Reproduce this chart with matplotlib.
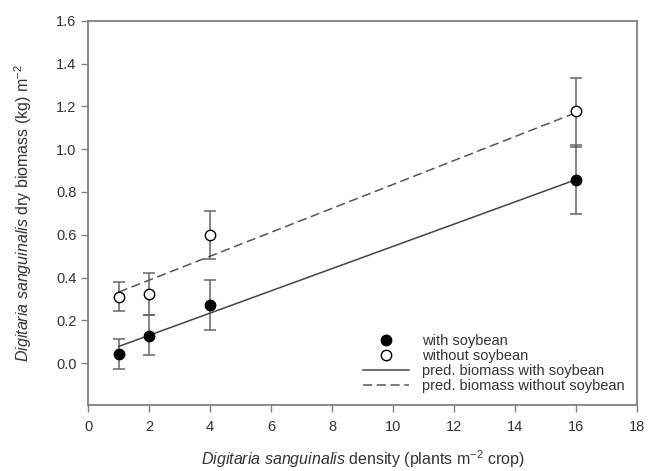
import matplotlib
matplotlib.use("Agg")
import matplotlib.pyplot as plt
import numpy as np

plt.rcParams["font.family"] = "Liberation Sans"
plt.rcParams["mathtext.fontset"] = "custom"
plt.rcParams["mathtext.rm"] = "Liberation Sans"
plt.rcParams["mathtext.it"] = "Liberation Sans:italic"

# data
density = [1, 2, 4, 16]
with_soy = [0.042, 0.129, 0.272, 0.857]
with_soy_hi = [0.112, 0.223, 0.388, 1.019]
with_soy_lo = [-0.026, 0.040, 0.157, 0.698]
without_soy = [0.311, 0.325, 0.600, 1.178]
without_soy_hi = [0.378, 0.420, 0.712, 1.332]
without_soy_lo = [0.243, 0.223, 0.488, 1.012]

pred_x = [1, 16]
pred_with = [0.078, 0.857]
pred_without = [0.332, 1.17]

txt = "#333333"

fig = plt.figure(figsize=(6.49, 4.71), dpi=100)
ax = fig.add_axes([0.136, 0.140, 0.845, 0.816])

x = np.array(density)
for y, hi, lo, face, lab in [
    (with_soy, with_soy_hi, with_soy_lo, "black", "with soybean"),
    (without_soy, without_soy_hi, without_soy_lo, "white", "without soybean"),
]:
    y = np.array(y)
    yerr = [y - np.array(lo), np.array(hi) - y]
    ax.errorbar(x, y, yerr=yerr, fmt="none", ecolor="#666666",
                elinewidth=1.1, capsize=4.5, capthick=1.1, zorder=2)
    ax.plot(x, y, "o", ms=7.5, mfc=face, mec="black", mew=1.0,
            linestyle="none", label=lab, zorder=4)

ax.plot(pred_x, pred_with, "-", color="#444444", lw=1.1,
        label="pred. biomass with soybean", zorder=3)
ax.plot(pred_x, pred_without, "--", color="#555555", lw=1.1,
        dashes=(6, 3), label="pred. biomass without soybean", zorder=3)

ax.set_xlim(0, 18)
ax.set_ylim(-0.196, 1.6)
ax.set_xticks(np.arange(0, 19, 2))
ax.set_yticks(np.arange(0, 1.61, 0.2))
ax.set_yticklabels([f"{v:.1f}" for v in np.arange(0, 1.61, 0.2)])

for s in ax.spines.values():
    s.set_color("#808080")
    s.set_linewidth(1.3)
ax.tick_params(direction="out", length=5, width=1, color="#808080",
               labelcolor=txt, labelsize=10.5)
ax.tick_params(axis="x", pad=6)

ax.set_xlabel(r"$\it{Digitaria\ sanguinalis}$ density (plants m$^{-2}$ crop)",
              fontsize=11.5, color=txt, labelpad=10)
ax.set_ylabel(r"$\it{Digitaria\ sanguinalis}$ dry biomass (kg) m$^{-2}$",
              fontsize=11.5, color=txt, labelpad=16)

leg = ax.legend(loc="lower right", frameon=False, fontsize=10.5,
                handlelength=3.2, labelspacing=0.08, borderaxespad=0.4,
                handletextpad=0.9)
for t in leg.get_texts():
    t.set_color(txt)

fig.savefig("out.png", dpi=100)
